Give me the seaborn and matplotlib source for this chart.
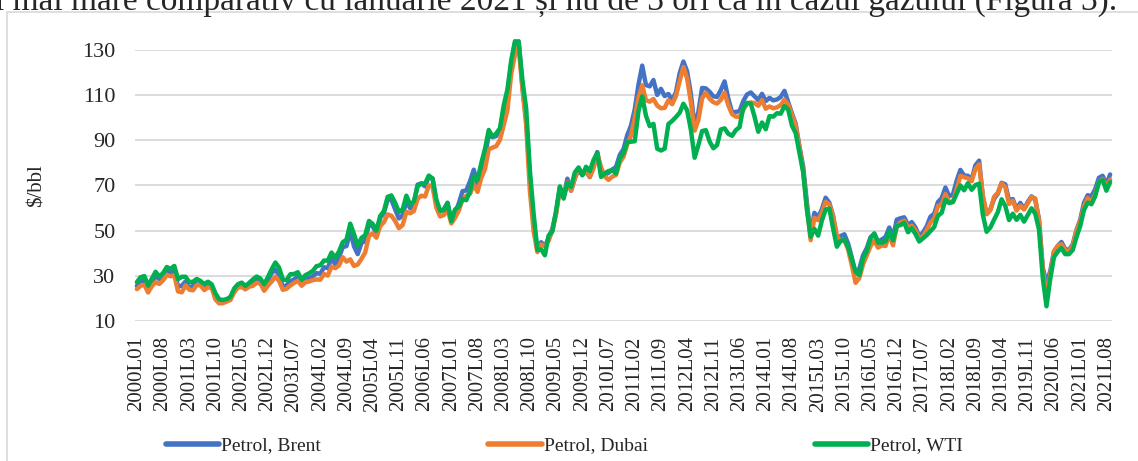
import matplotlib
matplotlib.use("Agg")
import matplotlib.pyplot as plt
import seaborn as sns
import pandas as pd
from matplotlib.patches import Rectangle

# monthly prices, $/bbl, 2000L01 .. 2021L09
brent = [
    25.5, 27.8, 27.5, 22.8, 27.6, 29.8, 28.6, 30.4, 33.1, 31.1, 32.5, 25.2,
    25.6, 27.5, 24.5, 25.6, 28.4, 27.7, 24.5, 25.7, 25.6, 20.5, 18.8, 18.7,
    19.4, 20.3, 23.7, 25.7, 25.4, 24.1, 25.7, 26.3, 28.4, 27.5, 24.3, 28.0,
    31.2, 32.8, 30.3, 25.0, 25.8, 27.6, 28.4, 29.8, 27.1, 29.6, 28.8, 29.8,
    31.2, 30.9, 33.8, 33.4, 37.9, 35.2, 38.2, 42.7, 43.2, 49.8, 43.1, 39.6,
    44.5, 45.5, 53.1, 51.9, 49.0, 55.6, 57.9, 63.8, 63.7, 59.4, 55.4, 56.8,
    63.1, 59.9, 62.3, 70.4, 70.9, 69.6, 74.0, 73.1, 62.5, 58.5, 59.5, 62.4,
    54.3, 57.8, 62.1, 67.5, 67.8, 71.9, 77.0, 70.8, 77.1, 82.9, 92.5, 91.4,
    91.9, 94.8, 103.3, 110.4, 123.9, 133.1, 133.9, 113.8, 99.1, 72.8, 53.2, 41.6,
    44.9, 43.1, 46.8, 50.9, 58.1, 69.1, 64.9, 73.0, 67.7, 73.2, 77.0, 74.7,
    76.2, 73.7, 78.8, 84.8, 75.9, 74.8, 75.6, 77.1, 78.2, 83.5, 86.1, 92.3,
    96.5, 103.7, 114.6, 123.1, 114.5, 113.9, 116.7, 110.1, 112.8, 109.6, 110.5, 107.9,
    111.2, 119.7, 124.9, 120.5, 110.5, 95.9, 102.6, 113.2, 113.0, 111.5, 109.5, 109.2,
    112.3, 116.1, 108.5, 102.3, 102.6, 102.9, 107.4, 110.3, 111.2, 109.5, 107.8, 110.6,
    107.4, 108.8, 107.7, 108.1, 109.2, 111.9, 106.9, 101.9, 97.3, 87.3, 78.4, 62.3,
    48.0, 57.9, 55.9, 59.5, 64.6, 62.3, 56.5, 46.5, 47.6, 48.4, 44.3, 38.0,
    30.8, 33.2, 39.1, 42.3, 47.1, 48.5, 45.1, 46.1, 47.2, 51.4, 47.1, 54.9,
    55.5, 55.9, 52.5, 53.8, 51.4, 47.5, 49.2, 51.9, 56.2, 57.5, 62.7, 64.4,
    69.1, 65.3, 66.0, 72.1, 76.9, 74.4, 74.3, 72.5, 78.9, 81.0, 64.8, 57.4,
    59.3, 64.1, 66.4, 71.2, 70.5, 63.3, 64.0, 59.5, 62.3, 59.6, 62.7, 65.2,
    63.6, 55.0, 33.7, 26.6, 32.1, 40.8, 43.2, 45.0, 41.9, 41.4, 43.9, 50.2,
    54.8, 62.3, 65.7, 65.3, 68.3, 73.4, 74.3, 70.5, 74.9,
]

dubai = [
    24.1, 25.6, 26.0, 22.7, 25.4, 27.2, 26.4, 28.0, 30.4, 29.8, 30.3, 23.1,
    22.7, 25.8, 23.9, 23.6, 25.9, 25.8, 23.7, 24.9, 24.6, 19.5, 17.8, 17.9,
    18.6, 19.3, 22.7, 24.8, 25.1, 24.1, 25.2, 25.6, 26.9, 26.6, 23.4, 25.6,
    27.5, 29.7, 27.7, 23.8, 24.3, 25.7, 26.9, 27.8, 25.6, 27.1, 27.5, 28.1,
    28.4, 28.3, 30.8, 30.1, 34.1, 33.4, 34.6, 38.2, 36.3, 37.3, 34.4, 35.0,
    37.5, 40.4, 47.7, 48.8, 46.9, 52.0, 53.8, 57.2, 56.6, 54.3, 51.1, 52.5,
    58.3, 57.7, 58.7, 64.1, 65.5, 65.1, 70.1, 69.5, 60.2, 56.3, 56.9, 59.5,
    53.2, 55.7, 58.9, 63.8, 65.5, 66.3, 70.4, 67.2, 73.4, 77.3, 86.0, 86.8,
    87.4, 90.2, 96.7, 103.4, 119.5, 127.8, 131.2, 112.9, 96.8, 67.4, 49.6, 40.5,
    43.9, 43.1, 45.6, 50.1, 57.4, 68.5, 64.7, 71.4, 67.7, 73.2, 77.7, 75.4,
    76.7, 73.8, 77.6, 84.2, 78.1, 74.0, 72.5, 73.9, 74.7, 80.2, 82.7, 88.2,
    92.1, 99.7, 108.9, 114.4, 107.8, 107.1, 108.3, 105.4, 104.2, 104.4, 107.8, 106.0,
    109.6, 116.2, 122.5, 117.4, 106.9, 94.3, 99.0, 108.6, 111.1, 108.4, 106.9, 106.3,
    107.9, 111.1, 105.5, 101.6, 100.5, 100.4, 103.5, 106.2, 106.8, 106.5, 105.3, 107.8,
    104.0, 105.0, 104.2, 104.6, 105.6, 108.0, 105.9, 101.1, 96.6, 86.7, 76.4, 60.2,
    45.8, 55.7, 54.6, 57.9, 62.8, 61.6, 56.2, 47.8, 45.3, 45.8, 41.7, 34.6,
    26.9, 29.0, 35.1, 39.1, 43.2, 45.6, 42.5, 43.5, 43.2, 48.4, 43.5, 51.9,
    53.7, 54.4, 51.3, 52.2, 50.1, 46.5, 47.5, 50.2, 53.6, 55.3, 60.9, 61.5,
    66.2, 62.7, 62.7, 68.3, 74.3, 73.7, 73.2, 71.9, 77.2, 79.4, 65.6, 57.3,
    59.1, 65.0, 66.8, 70.9, 69.4, 61.8, 63.3, 58.9, 61.1, 59.4, 62.1, 64.9,
    64.3, 54.2, 33.0, 20.4, 30.5, 40.8, 43.3, 44.0, 41.5, 40.7, 43.3, 49.8,
    54.1, 60.6, 64.4, 62.6, 66.1, 71.6, 72.9, 69.5, 72.6,
]

wti = [
    27.2, 29.4, 29.9, 25.7, 28.8, 31.8, 29.7, 31.2, 33.9, 33.1, 34.4, 28.5,
    29.6, 29.6, 27.2, 27.4, 28.6, 27.6, 26.4, 27.4, 26.2, 22.2, 19.6, 19.3,
    19.7, 20.7, 24.4, 26.3, 27.0, 25.5, 26.9, 28.4, 29.7, 28.8, 26.3, 29.4,
    32.9, 35.9, 33.6, 28.3, 28.1, 30.7, 30.8, 31.6, 28.3, 30.3, 31.1, 32.2,
    34.3, 34.7, 36.8, 36.7, 40.3, 38.0, 40.8, 44.9, 46.0, 53.1, 48.5, 43.3,
    46.8, 48.0, 54.3, 53.0, 50.0, 56.5, 58.7, 65.0, 65.6, 62.3, 58.3, 59.4,
    65.5, 61.6, 62.9, 69.7, 70.9, 70.9, 74.4, 73.0, 63.8, 58.9, 59.1, 62.0,
    54.2, 59.4, 60.6, 64.0, 63.5, 67.5, 74.1, 72.4, 79.9, 86.2, 94.6, 91.7,
    93.0, 95.4, 105.5, 112.6, 125.4, 133.9, 133.4, 116.7, 104.1, 76.6, 57.3, 41.4,
    41.7, 39.1, 47.9, 49.6, 59.0, 69.6, 64.2, 71.1, 69.4, 75.8, 78.0, 74.5,
    78.3, 76.4, 81.3, 84.5, 73.8, 75.4, 76.4, 76.8, 75.3, 81.9, 84.3, 89.2,
    89.4, 89.6, 102.9, 109.5, 100.9, 96.3, 97.3, 86.3, 85.5, 86.3, 97.2, 98.6,
    100.3, 102.2, 106.2, 103.3, 94.7, 82.3, 87.9, 94.1, 94.5, 89.5, 86.5, 87.9,
    94.8, 95.3, 92.9, 92.0, 94.5, 95.8, 104.6, 106.6, 106.3, 100.5, 93.8, 97.9,
    94.9, 100.7, 100.5, 102.0, 101.8, 105.2, 103.6, 96.5, 93.2, 84.4, 75.8, 59.3,
    47.3, 50.8, 47.8, 54.5, 59.3, 59.8, 50.9, 42.9, 45.5, 46.2, 42.7, 37.3,
    31.8, 30.4, 37.8, 40.9, 46.7, 48.8, 44.7, 44.7, 45.2, 49.8, 45.7, 52.0,
    52.5, 53.5, 49.3, 51.1, 48.5, 45.2, 46.6, 48.0, 49.8, 51.6, 56.6, 57.9,
    63.7, 62.2, 62.7, 66.3, 70.0, 67.9, 71.0, 68.1, 70.2, 70.8, 57.0, 49.5,
    51.4, 54.9, 58.2, 63.9, 60.9, 54.7, 57.5, 54.8, 57.0, 54.0, 57.0, 59.9,
    57.5, 50.5, 29.2, 16.5, 28.6, 38.3, 40.7, 42.3, 39.6, 39.6, 41.4, 47.1,
    52.0, 59.1, 62.4, 61.7, 65.2, 71.4, 72.5, 67.7, 71.5,
]

series_names = ["Petrol, Brent", "Petrol, Dubai", "Petrol, WTI"]
colors = ["#4472C4", "#ED7D31", "#00B050"]

months = [f"{y}L{m:02d}" for y in range(2000, 2022) for m in range(1, 13)][:len(brent)]
tick_every = 7

rows = []
for name, vals in zip(series_names, [brent, dubai, wti]):
    for i, v in enumerate(vals):
        rows.append({"idx": i, "luna": months[i], "serie": name, "pret": v})
df = pd.DataFrame(rows)

sns.set_style("white")
plt.rcParams["font.family"] = ["Liberation Serif", "DejaVu Serif"]

fig = plt.figure(figsize=(11.38, 4.61), dpi=100)
ax = fig.add_axes([135 / 1138, 1 - 321 / 461, (1112 - 135) / 1138, (321 - 50) / 461])

sns.lineplot(data=df, x="idx", y="pret", hue="serie", hue_order=series_names,
             palette=colors, linewidth=3.2, ax=ax)
for ln in ax.lines:
    ln.set_clip_on(False)
    ln.set_solid_joinstyle("round")

ax.set_ylim(10, 130)
ax.set_yticks(range(10, 131, 20))
ax.set_xlim(-0.5, len(brent) - 0.5)
ticks = list(range(0, len(brent), tick_every))
ax.set_xticks(ticks)
ax.set_xticklabels([months[i] for i in ticks], rotation=90)
ax.tick_params(axis="x", length=0, pad=11, labelsize=15)
ax.tick_params(axis="y", length=0, pad=14, labelsize=16)
ax.grid(axis="y", color="#d9d9d9", linewidth=1.3)
ax.set_axisbelow(True)
for s in ax.spines.values():
    s.set_visible(False)
ax.set_xlabel("")
ax.set_ylabel("$/bbl", fontsize=15, labelpad=26)

handles, labels = ax.get_legend_handles_labels()
ax.get_legend().remove()
leg = fig.legend(handles, labels, loc="center", bbox_to_anchor=(0.496, 0.033),
                 ncol=3, frameon=False, fontsize=14, handlelength=2.75,
                 handletextpad=0.1, columnspacing=8.6)
for h in leg.legend_handles:
    h.set_linewidth(4)

# chart border (light grey frame of the embedded chart)
fig.patches.append(Rectangle((7 / 1138, -0.05), 1.05, 1 - 12 / 461 + 0.05,
                             transform=fig.transFigure, fill=False,
                             edgecolor="#d9d9d9", linewidth=1.2))

# document text cut off above the chart
fig.text(-0.004, 1 - 10 / 461, "i mai mare comparativ cu ianuarie 2021 și nu de 3 ori ca în cazul gazului (Figura 3).",
         fontsize=24, ha="left", va="baseline")

fig.savefig("out.png", dpi=100)
